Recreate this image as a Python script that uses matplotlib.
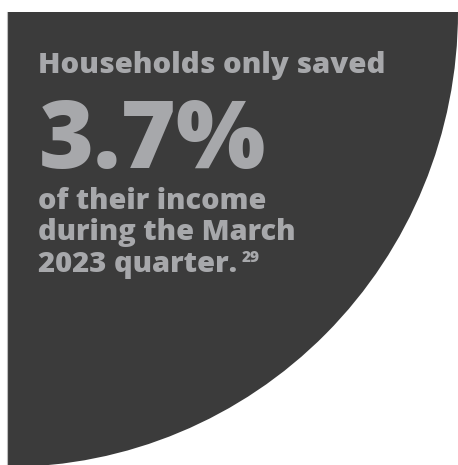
import matplotlib
matplotlib.use('Agg')
import matplotlib.pyplot as plt
from matplotlib.patches import Ellipse, Rectangle

# text content
headline = 'Households only saved'
big_value = '3.7%'
detail_lines = ['of their income', 'during the March', '2023 quarter.']
footnote = '29'

bg_color = '#3b3b3b'
text_color = '#a7a8ab'

W, H = 458, 465
fig = plt.figure(figsize=(W / 100, H / 100), dpi=100)
ax = fig.add_axes([0, 0, 1, 1])
ax.set_xlim(0, W)
ax.set_ylim(H, 0)
ax.axis('off')

# quarter ellipse anchored at the top-left corner
ax.add_patch(Ellipse((7, 12), 2 * 451, 2 * 455, color=bg_color, lw=0))
ax.add_patch(Rectangle((0, 0), 7, H, color='white', lw=0, zorder=2))
ax.add_patch(Rectangle((0, 0), W, 12, color='white', lw=0, zorder=2))
ax.plot([6.5, 6.5], [12, H], color='#bdbdbd', lw=0.8, zorder=3)

fam = ['Open Sans', 'DejaVu Sans']
renderer = fig.canvas.get_renderer()


def fit_text(x, y, s, width, size, weight=800):
    t = ax.text(x, y, s, color=text_color, fontsize=size, family=fam,
                fontweight=weight, va='baseline', ha='left', zorder=4)
    w = t.get_window_extent(renderer).width
    t.set_fontsize(size * width / w)
    return t


fit_text(38, 73, headline, 347, 22)
fit_text(39, 168, big_value, 227, 76)
fit_text(38, 209, detail_lines[0], 229, 19)
fit_text(38, 240, detail_lines[1], 259, 19)
fit_text(38, 272, detail_lines[2], 199, 19)
ax.text(242, 262, footnote, color=text_color, fontsize=11, family=fam,
        fontweight=800, va='baseline', ha='left', zorder=4)

fig.savefig('out.png', dpi=100)
